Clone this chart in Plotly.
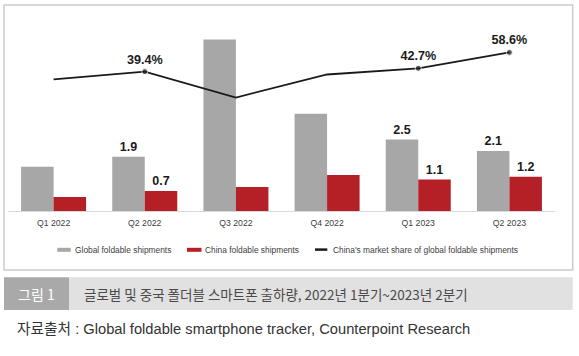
import plotly.graph_objects as go

categories = ["Q1 2022", "Q2 2022", "Q3 2022", "Q4 2022", "Q1 2023", "Q2 2023"]
global_shipments = [1.55, 1.9, 6.0, 3.4, 2.5, 2.1]
china_shipments = [0.49, 0.7, 0.84, 1.26, 1.1, 1.2]
china_share = [31.7, 39.4, 13.5, 36.5, 42.7, 58.6]
global_labels = ["", "1.9", "", "", "2.5", "2.1"]
china_labels = ["", "0.7", "", "", "1.1", "1.2"]
share_labels = ["", "39.4%", "", "", "42.7%", "58.6%"]
share_marker = [0, 6, 0, 0, 6, 6]

W, H = 579, 356
L, R, T, B = 8, 24, 11, 145
PW, PH = W - L - R, H - T - B


def px(x):
    return (x - L) / PW


def py(y):
    return (H - B - y) / PH


FONT = "Liberation Sans, Arial, sans-serif"
GRAY = "#a7a7a7"
RED = "#b51f26"
LINE = "#1a1a1a"

fig = go.Figure()
fig.add_bar(x=categories, y=global_shipments, name="Global foldable shipments",
            marker=dict(color=GRAY, line=dict(width=0)), text=global_labels,
            textposition="outside", cliponaxis=False,
            textfont=dict(family=FONT, size=12.5, color="#1a1a1a", weight="bold"))
fig.add_bar(x=categories, y=china_shipments, name="China foldable shipments",
            marker=dict(color=RED, line=dict(width=0)), text=china_labels,
            textposition="outside", cliponaxis=False,
            textfont=dict(family=FONT, size=12.5, color="#1a1a1a", weight="bold"))
fig.add_scatter(x=categories, y=china_share, yaxis="y2", mode="lines+markers+text",
                name="China's market share of global foldable shipments",
                line=dict(color=LINE, width=1.8),
                marker=dict(color=LINE, size=share_marker),
                text=share_labels, textposition="top center", cliponaxis=False,
                textfont=dict(family=FONT, size=12.6, color="#1a1a1a", weight="bold"))

shapes = []
annotations = []
# chart frame
shapes.append(dict(type="rect", xref="paper", yref="paper", x0=px(4), x1=px(572.7),
                   y0=py(5), y1=py(270), line=dict(color="#cccccc", width=1.5), layer="below"))
# legend
leg = [
    (57.3, 70.7, GRAY, "Global foldable shipments", 73.3, "bar"),
    (187, 201.5, RED, "China foldable shipments", 203.3, "bar"),
    (315, 327.3, LINE, "China's market share of global foldable shipments", 330.7, "line"),
]
for x0, x1, col, txt, tx, kind in leg:
    if kind == "bar":
        shapes.append(dict(type="rect", xref="paper", yref="paper", x0=px(x0), x1=px(x1),
                           y0=py(251.8), y1=py(247.8), fillcolor=col, line=dict(width=0)))
    else:
        shapes.append(dict(type="line", xref="paper", yref="paper", x0=px(x0), x1=px(x1),
                           y0=py(249.6), y1=py(249.6), line=dict(color=col, width=2.5)))
    annotations.append(dict(xref="paper", yref="paper", x=px(tx), y=py(249.6), text=txt,
                            showarrow=False, xanchor="left", yanchor="middle",
                            font=dict(family=FONT, size=8.4, color="#404040")))
# caption band
shapes.append(dict(type="rect", xref="paper", yref="paper", x0=px(4), x1=px(69),
                   y0=py(277.3), y1=py(310), fillcolor="#a9a9a9", line=dict(width=0)))
shapes.append(dict(type="rect", xref="paper", yref="paper", x0=px(69), x1=px(572.7),
                   y0=py(277.3), y1=py(310), fillcolor="#e1e1e1", line=dict(width=0)))
annotations.append(dict(xref="paper", yref="paper", x=px(36.5), y=py(293.5), text="그림 1",
                        showarrow=False, xanchor="center", yanchor="middle",
                        font=dict(family="Noto Sans CJK KR", size=14, color="#ffffff")))
annotations.append(dict(xref="paper", yref="paper", x=px(81.7), y=py(293.5),
                        text="글로벌 및 중국 폴더블 스마트폰 출하량, 2022년 1분기~2023년 2분기",
                        showarrow=False, xanchor="left", yanchor="middle",
                        font=dict(family="Noto Sans CJK KR", size=13.5, color="#4a4a4a")))
annotations.append(dict(xref="paper", yref="paper", x=px(15), y=py(329),
                        text="자료출처 : Global foldable smartphone tracker, Counterpoint Research",
                        showarrow=False, xanchor="left", yanchor="middle",
                        font=dict(family="Liberation Sans, Noto Sans CJK KR", size=14.7, color="#333333")))

fig.update_layout(
    width=W, height=H,
    margin=dict(l=L, r=R, t=T, b=B),
    paper_bgcolor="white", plot_bgcolor="white",
    barmode="group", bargap=0.287, bargroupgap=0,
    showlegend=False,
    xaxis=dict(type="category", showline=True, linecolor="#d9d9d9", linewidth=1,
               showgrid=False, ticks="", zeroline=False, ticklabelstandoff=4,
               tickfont=dict(family=FONT, size=8.7, color="#404040")),
    yaxis=dict(range=[0, 7], visible=False),
    yaxis2=dict(range=[-100, 100], overlaying="y", visible=False),
    shapes=shapes, annotations=annotations,
)

fig.write_html("out.html", config={"displayModeBar": False},
               post_script="document.body.style.margin='0';document.body.style.overflow='hidden';")
